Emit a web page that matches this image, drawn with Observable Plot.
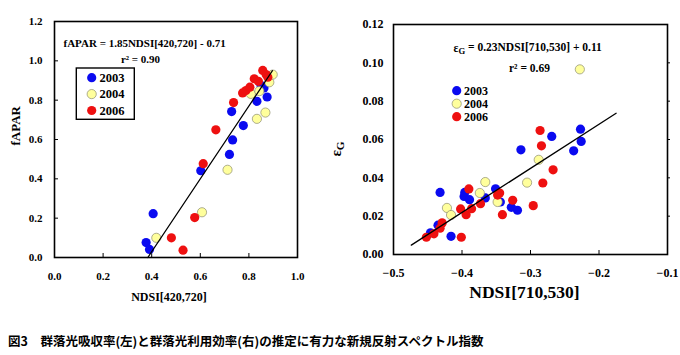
<!DOCTYPE html>
<html><head><meta charset="utf-8">
<script src="https://cdn.jsdelivr.net/npm/d3@7"></script>
<script src="https://cdn.jsdelivr.net/npm/@observablehq/plot@0.6"></script>
<style>
body{margin:0;background:#fff;}
#wrap{position:relative;width:680px;height:355px;overflow:hidden;}
#left{position:absolute;left:0;top:0;}
#right{position:absolute;left:330px;top:0;}
#cap{position:absolute;left:8px;top:332px;font-family:"Noto Sans CJK JP";font-weight:bold;font-size:12.5px;white-space:nowrap;line-height:18px;}
svg{overflow:visible}
</style></head>
<body><div id="wrap"><div id="left"></div><div id="right"></div><div id="cap"></div></div>
<script>
// ---------- data ----------
const years = ["2003", "2004", "2006"];
const fills = ["#0a0af0", "#ffff9c", "#ee1010"];
const strokes = ["none", "#8c8c70", "none"];

// left panel: NDSI[420,720] vs fAPAR
const blueLX = [0.377, 0.391, 0.406, 0.602, 0.720, 0.729, 0.733, 0.777, 0.833, 0.875, 0.850, 0.862];
const blueLY = [0.076, 0.041, 0.223, 0.441, 0.524, 0.742, 0.598, 0.671, 0.794, 0.816, 0.875, 0.862];
const yellowLX = [0.419, 0.607, 0.712, 0.833, 0.868, 0.808, 0.843, 0.884, 0.898];
const yellowLY = [0.100, 0.230, 0.446, 0.705, 0.737, 0.832, 0.846, 0.891, 0.930];
const redLX = [0.481, 0.529, 0.577, 0.612, 0.664, 0.737, 0.774, 0.788, 0.804, 0.822, 0.839, 0.857, 0.871, 0.878];
const redLY = [0.100, 0.037, 0.203, 0.477, 0.649, 0.788, 0.837, 0.849, 0.866, 0.909, 0.896, 0.951, 0.930, 0.917];
const lineLX = [0.384, 0.897];
const lineLY = [0.0, 0.95];

// right panel: NDSI[710,530] vs epsilon_G
const blueRX = [-0.432, -0.446, -0.435, -0.416, -0.396, -0.397, -0.389, -0.366, -0.351, -0.344, -0.328, -0.319, -0.314, -0.269, -0.237, -0.227, -0.226];
const blueRY = [0.0324, 0.0113, 0.0153, 0.0095, 0.0324, 0.0303, 0.0286, 0.0295, 0.0343, 0.0274, 0.0246, 0.0231, 0.0546, 0.0616, 0.0541, 0.0654, 0.0590];
const yellowRX = [-0.422, -0.416, -0.366, -0.374, -0.348, -0.305, -0.288, -0.228];
const yellowRY = [0.0243, 0.0206, 0.0378, 0.0321, 0.0274, 0.0375, 0.0494, 0.0966];
const redRX = [-0.452, -0.441, -0.432, -0.429, -0.401, -0.402, -0.394, -0.390, -0.386, -0.373, -0.345, -0.348, -0.341, -0.326, -0.296, -0.286, -0.284, -0.282, -0.267];
const redRY = [0.0090, 0.0108, 0.0137, 0.0165, 0.0090, 0.0238, 0.0208, 0.0342, 0.0239, 0.0265, 0.0321, 0.0310, 0.0208, 0.0283, 0.0255, 0.0647, 0.0567, 0.0373, 0.0442];
const lineRX = [-0.474, -0.175];
const lineRY = [0.0049, 0.0737];

const xTicksL = [0, 0.2, 0.4, 0.6, 0.8, 1.0];
const yTicksL = [0, 0.2, 0.4, 0.6, 0.8, 1.0, 1.2];
const xTicksR = [-0.5, -0.4, -0.3, -0.2, -0.1];
const yTicksR = [0, 0.02, 0.04, 0.06, 0.08, 0.10, 0.12];

const eqL = "fAPAR = 1.85NDSI[420,720] - 0.71";
const r2L = "r² = 0.90";
const eqR = "εG = 0.23NDSI[710,530] + 0.11";
const r2R = "r² = 0.69";
const xTitleL = "NDSI[420,720]";
const yTitleL = "fAPAR";
const xTitleR = "NDSI[710,530]";
const caption = "図3　群落光吸収率(左)と群落光利用効率(右)の推定に有力な新規反射スペクトル指数";

// ---------- helpers ----------
const toRows = (xs, ys) => xs.map((x, i) => ({x, y: ys[i]}));
const serif = "'Liberation Serif', 'Times New Roman', serif";
const dotMarks = (sets) => sets.map((rows, i) =>
  Plot.dot(rows, {x: "x", y: "y", r: 4.6, fill: fills[i], stroke: strokes[i], strokeWidth: 0.7}));

// ---------- left plot ----------
const WL = 330, HL = 310, mlL = 54, mrL = 33, mtL = 21, mbL = 53;
const fwL = WL - mlL - mrL, fhL = HL - mtL - mbL;
const left = Plot.plot({
  width: WL, height: HL, marginLeft: mlL, marginRight: mrL, marginTop: mtL, marginBottom: mbL,
  style: {fontFamily: serif, fontSize: "11px", fontWeight: "bold", color: "#000", background: "#fff"},
  x: {domain: [0, 1], ticks: xTicksL, tickFormat: d3.format(".1f"), tickSize: 0, tickPadding: 15, label: null},
  y: {domain: [0, 1.2], ticks: yTicksL, tickFormat: d3.format(".1f"), tickSize: 0, tickPadding: 12, label: null},
  marks: [
    Plot.tickX(xTicksL.slice(1, -1), {x: d => d, insetTop: fhL - 4, stroke: "#000"}),
    Plot.tickY(yTicksL.slice(1, -1), {y: d => d, insetRight: fwL - 4, stroke: "#000"}),
    ...dotMarks([toRows(blueLX, blueLY), toRows(yellowLX, yellowLY), toRows(redLX, redLY)]),
    Plot.line(toRows(lineLX, lineLY), {x: "x", y: "y", stroke: "#000", strokeWidth: 1.2}),
    Plot.frame({stroke: "#000", strokeWidth: 1.6}),
    Plot.text([eqL], {frameAnchor: "top-left", textAnchor: "start", dx: 9, dy: 18, fontSize: 11, fontWeight: "bold", fill: "#000"}),
    Plot.text([r2L], {frameAnchor: "top-left", textAnchor: "middle", dx: 86, dy: 34, fontSize: 11, fontWeight: "bold", fill: "#000"}),
    Plot.text([xTitleL], {frameAnchor: "bottom", dx: -7, dy: 43, fontSize: 12, fontWeight: "bold", fill: "#000"}),
    Plot.text([yTitleL], {frameAnchor: "left", dx: -39, dy: 6, rotate: -90, fontSize: 13, fontWeight: "bold", fill: "#000"})
  ]
});
document.getElementById("left").appendChild(left);

// ---------- right plot ----------
const WR = 350, HR = 310, mlR = 63, mrR = 13, mtR = 24, mbR = 56;
const fwR = WR - mlR - mrR, fhR = HR - mtR - mbR;
const right = Plot.plot({
  width: WR, height: HR, marginLeft: mlR, marginRight: mrR, marginTop: mtR, marginBottom: mbR,
  style: {fontFamily: serif, fontSize: "12px", fontWeight: "bold", color: "#000", background: "#fff"},
  x: {domain: [-0.5, -0.1], ticks: xTicksR, tickFormat: d3.format(".1f"), tickSize: 0, tickPadding: 14, label: null},
  y: {domain: [0, 0.12], ticks: yTicksR, tickFormat: d3.format(".2f"), tickSize: 0, tickPadding: 10, label: null},
  marks: [
    Plot.tickX(xTicksR.slice(1, -1), {x: d => d, insetTop: fhR - 4, stroke: "#000"}),
    Plot.tickY(yTicksR.slice(1, -1), {y: d => d, insetLeft: fwR, insetRight: -3, stroke: "#000"}),
    ...dotMarks([toRows(blueRX, blueRY), toRows(yellowRX, yellowRY), toRows(redRX, redRY)]),
    Plot.line(toRows(lineRX, lineRY), {x: "x", y: "y", stroke: "#000", strokeWidth: 1.3}),
    Plot.frame({stroke: "#000", strokeWidth: 1.6}),
    Plot.text([eqR], {frameAnchor: "top-left", textAnchor: "start", dx: 60, dy: 19, fontSize: 11.5, fontWeight: "bold", fill: "#000"}),
    Plot.text([r2R], {frameAnchor: "top-left", textAnchor: "middle", dx: 136, dy: 39, fontSize: 11.5, fontWeight: "bold", fill: "#000"}),
    Plot.text([xTitleR], {frameAnchor: "bottom", dx: -6, dy: 43, fontSize: 17.5, fontWeight: "bold", fill: "#000"})
  ]
});
document.getElementById("right").appendChild(right);

// ---------- subscripts (epsilon_G) ----------
function subscriptG(svg, content) {
  d3.select(svg).selectAll("text").filter(function() { return this.textContent === content; })
    .each(function() {
      const t = d3.select(this);
      const rest = content.slice(2);
      t.text(null);
      t.append("tspan").text("ε");
      t.append("tspan").attr("dy", "0.3em").attr("font-size", "0.75em").text("G");
      t.append("tspan").attr("dy", "-0.3em").text(rest);
    });
}
subscriptG(right, eqR);

// y title of right panel
const yt = d3.select(right).append("text")
  .attr("transform", `translate(11,${(mtR + HR - mbR) / 2 + 10}) rotate(-90)`)
  .attr("text-anchor", "middle").attr("font-size", 15).attr("font-weight", "bold")
  .attr("font-family", serif).attr("fill", "#000");
yt.append("tspan").text("ε");
yt.append("tspan").attr("dy", "0.3em").attr("font-size", "0.75em").text("G");

// ---------- legends ----------
function legend(svg, boxed, cx, cy0, step, tx, fs) {
  const g = d3.select(svg).append("g").attr("font-family", serif).attr("font-weight", "bold")
    .attr("font-size", fs).attr("text-anchor", "start");
  if (boxed) g.append("rect").attr("x", boxed[0]).attr("y", boxed[1]).attr("width", boxed[2]).attr("height", boxed[3])
    .attr("fill", "#fff").attr("stroke", "#000").attr("stroke-width", 1.4);
  years.forEach((yr, i) => {
    const cy = cy0 + i * step;
    g.append("circle").attr("cx", cx).attr("cy", cy).attr("r", 4.6)
      .attr("fill", fills[i]).attr("stroke", strokes[i]).attr("stroke-width", 0.7);
    g.append("text").attr("x", tx).attr("y", cy).attr("dy", "0.35em").attr("text-anchor", "start")
      .attr("fill", "#000").text(yr);
  });
}
legend(left, [76.3, 68, 58, 51.3], 91.7, 77.7, 16.4, 99.5, 12.5);
legend(right, null, 126.7, 90.7, 13, 134, 12);

document.getElementById("cap").textContent = caption;
</script>
</body></html>
